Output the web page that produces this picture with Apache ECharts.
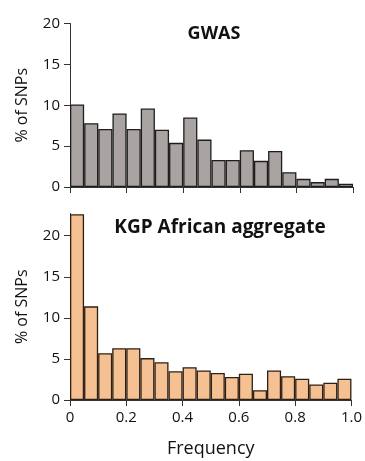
<!DOCTYPE html>
<html><head><meta charset="utf-8">
<script src="https://cdn.jsdelivr.net/npm/echarts@6/dist/echarts.min.js"></script>
<style>html,body{margin:0;padding:0;background:#fff}#c{width:365px;height:461px}</style>
</head><body><div id="c"></div>
<script>
var bins = ['0-0.05','0.05-0.1','0.1-0.15','0.15-0.2','0.2-0.25','0.25-0.3','0.3-0.35','0.35-0.4','0.4-0.45','0.45-0.5','0.5-0.55','0.55-0.6','0.6-0.65','0.65-0.7','0.7-0.75','0.75-0.8','0.8-0.85','0.85-0.9','0.9-0.95','0.95-1.0'];
var gwas = [10.1,7.8,7.1,9.0,7.1,9.6,7.0,5.4,8.5,5.8,3.3,3.3,4.5,3.2,4.4,1.8,1.0,0.6,1.0,0.4];
var kgp = [22.6,11.4,5.7,6.3,6.3,5.1,4.6,3.5,4.0,3.6,3.3,2.8,3.2,1.2,3.6,2.9,2.6,1.9,2.1,2.6];
var yTicks = [0,5,10,15,20];
var xTicks = [0,0.2,0.4,0.6,0.8,1.0];
var titles = ['GWAS','KGP African aggregate'];
var yName = '% of SNPs';
var xName = 'Frequency';

var font = 'Open Sans';
var axisColor = '#333';
var chart = echarts.init(document.getElementById('c'));
function yAxis(idx, max){
  return {type:'value', gridIndex:idx, min:0, max:max,
    name:yName, nameLocation:'middle', nameGap:40, nameRotate:90,
    nameTextStyle:{fontFamily:font,fontSize:16,color:'#111'},
    axisLine:{show:true,lineStyle:{color:axisColor,width:1}},
    axisTick:{show:true,length:6,customValues:yTicks,lineStyle:{color:axisColor}},
    axisLabel:{customValues:yTicks,fontFamily:font,fontSize:15,color:'#111',margin:10},
    splitLine:{show:false}};
}
function xVal(idx, showLabel){
  return {type:'value', gridIndex:idx, min:0, max:1, interval:0.2, position:'bottom',
    name: showLabel ? xName : '', nameLocation:'middle', nameGap:40,
    nameTextStyle:{fontFamily:font,fontSize:18,color:'#111'},
    axisLine:{show:true,lineStyle:{color:axisColor,width:1}},
    axisTick:{show:true,length:6,inside:false,lineStyle:{color:axisColor}},
    axisLabel:{show:showLabel,fontFamily:font,fontSize:15,color:'#111',margin:10,
      formatter:function(v){return v===0?'0':(v===1?'1.0':String(v));}},
    splitLine:{show:false}};
}
function xCat(idx){
  return {type:'category', gridIndex:idx, data:bins, boundaryGap:true, show:false};
}
chart.setOption({
  animation:false,
  title:[
    {text:titles[0], left:209, top:20, textAlign:'center', textStyle:{fontFamily:font,fontSize:18,fontWeight:'bold',color:'#111'}},
    {text:titles[1], left:215, top:213, textAlign:'center', textStyle:{fontFamily:font,fontSize:19,fontWeight:'bold',color:'#111'}}
  ],
  grid:[
    {left:70, right:12, top:23.5, bottom:274},
    {left:70, right:12, top:213.5, bottom:61}
  ],
  xAxis:[xCat(0), xVal(0,false), xCat(1), xVal(1,true)],
  yAxis:[yAxis(0,20), yAxis(1,22.7)],
  series:[
    {type:'bar', xAxisIndex:0, yAxisIndex:0, data:gwas, barCategoryGap:'0%',
      itemStyle:{color:'#a9a3a1', borderColor:'#1e1e1e', borderWidth:1.3}},
    {type:'bar', xAxisIndex:2, yAxisIndex:1, data:kgp, barCategoryGap:'0%',
      itemStyle:{color:'#f5c193', borderColor:'#2e2013', borderWidth:1.3}}
  ]
});
</script></body></html>
